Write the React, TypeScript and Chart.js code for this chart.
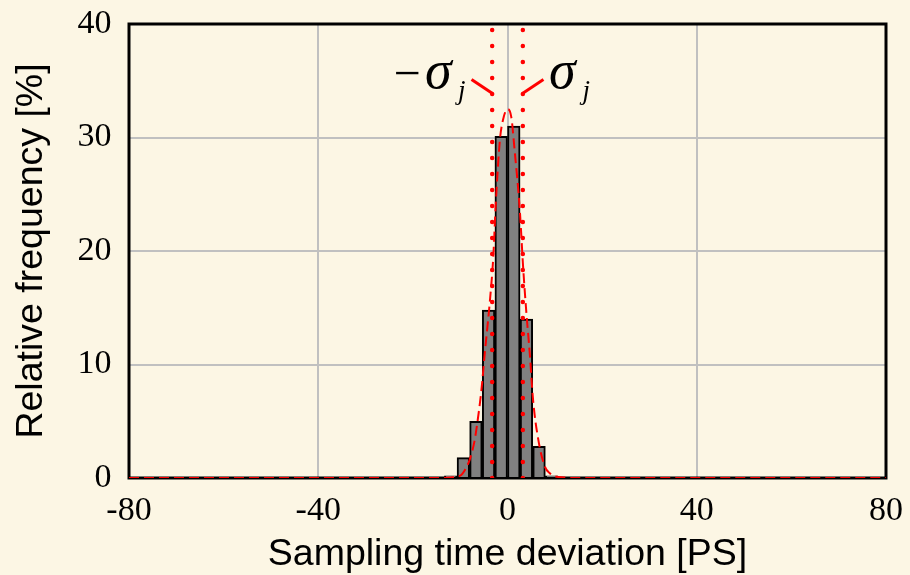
import React, { useEffect, useRef } from "react";
import { Chart, registerables } from "chart.js";

Chart.register(...registerables);

// Histogram bins (centers, in ps) and relative frequencies (%)
const BIN_CENTERS = [-12, -9.33, -6.67, -4, -1.33, 1.33, 4, 6.67, 9.33];
const FREQ = [0.2, 1.8, 5.0, 14.8, 30.1, 31.0, 14.0, 2.8, 0.2];

// Fitted distribution curve
const FIT_X = [-80, -14, -12, -10, -9, -8, -7, -6.5, -5.5, -4.8, -3.7, -3, -2.5, -1.6, -0.8, 0, 0.8, 1.5, 2.6, 3.3, 4, 4.7, 5.4, 6.5, 7.9, 9, 10, 12, 14, 80];
const FIT_Y = [0, 0, 0.05, 0.2, 0.7, 1.6, 3.2, 4.5, 7.8, 11, 15.7, 19.5, 24, 29.8, 31.8, 32.5, 31.8, 28.9, 23.6, 18.6, 14.5, 11, 6.9, 3.4, 1.0, 0.4, 0.15, 0.05, 0, 0];

// sigma_j markers
const SIGMA = 3.24;
const SIGMA_LINE_Y = [0, 40];
const POINTER_INNER = { x: 3.24, y: 33.9 };
const POINTER_OUTER = { x: 7.6, y: 35.1 };

const X_TICKS = [-80, -40, 0, 40, 80];
const Y_TICKS = [0, 10, 20, 30, 40];

const BG = "#FCF6E4";
const TICK_FONT = { family: "'Liberation Serif', 'Times New Roman', serif", size: 34 };
const TITLE_FONT = { family: "'Liberation Sans', Arial, sans-serif", size: 37.5, lineHeight: 1.0 };

const framePlugin = {
  id: "frame",
  beforeDatasetsDraw(chart: any) {
    const { ctx, chartArea: a } = chart;
    ctx.save();
    ctx.strokeStyle = "#000";
    ctx.lineWidth = 3;
    ctx.strokeRect(a.left, a.top, a.right - a.left, a.bottom - a.top);
    ctx.restore();
  },
  afterDatasetsDraw(chart: any) {
    const { ctx } = chart;
    const xs = chart.scales.x;
    const ys = chart.scales.y;
    ctx.save();
    ctx.strokeStyle = "#FF0000";
    ctx.lineWidth = 3;
    ctx.lineCap = "butt";
    for (const s of [-1, 1]) {
      const x1 = xs.getPixelForValue(s * POINTER_INNER.x);
      const y1 = ys.getPixelForValue(POINTER_INNER.y);
      const x2 = xs.getPixelForValue(s * POINTER_OUTER.x);
      const y2 = ys.getPixelForValue(POINTER_OUTER.y);
      ctx.beginPath();
      ctx.moveTo(x1, y1);
      ctx.lineTo(x2, y2);
      ctx.stroke();
    }
    ctx.fillStyle = "#000";
    ctx.textBaseline = "alphabetic";
    ctx.textAlign = "left";
    const oy = ys.getPixelForValue(POINTER_OUTER.y);
    const sigFont = "italic 54px 'Liberation Serif', serif";
    const jFont = "italic 27px 'Liberation Serif', serif";
    const minusFont = "48px 'Liberation Serif', serif";
    const inkLeft = (t: string, font: string, x: number, y: number) => {
      ctx.font = font;
      const m = ctx.measureText(t);
      ctx.fillText(t, x + m.actualBoundingBoxLeft, y);
      return x + m.actualBoundingBoxLeft + m.actualBoundingBoxRight;
    };
    const inkRight = (t: string, font: string, x: number, y: number) => {
      ctx.font = font;
      const m = ctx.measureText(t);
      ctx.fillText(t, x - m.actualBoundingBoxRight, y);
      return x - m.actualBoundingBoxRight - m.actualBoundingBoxLeft;
    };
    // right label
    const rx = xs.getPixelForValue(POINTER_OUTER.x) + 6.5;
    const rEnd = inkLeft("σ", sigFont, rx, oy + 8);
    inkLeft("j", jFont, rEnd + 1.5, oy + 19);
    // left label
    const lx = xs.getPixelForValue(-POINTER_OUTER.x) - 6.5;
    const jStart = inkRight("j", jFont, lx, oy + 19);
    const sStart = inkRight("σ", sigFont, jStart - 1, oy + 8);
    inkRight("−", minusFont, sStart - 7.5, oy + 9);
    ctx.restore();
  },
};

export default function App() {
  const ref = useRef<HTMLCanvasElement | null>(null);
  useEffect(() => {
    if (!ref.current) return;
    const chart = new Chart(ref.current, {
      type: "bar",
      data: {
        datasets: [
          {
            type: "line",
            data: SIGMA_LINE_Y.map((y) => ({ x: -SIGMA, y })),
            borderColor: "#FF0000",
            borderWidth: 4.5,
            borderDash: [0, 16],
            borderCapStyle: "round",
            pointRadius: 0,
            fill: false,
            order: 0,
          } as any,
          {
            type: "line",
            data: SIGMA_LINE_Y.map((y) => ({ x: SIGMA, y })),
            borderColor: "#FF0000",
            borderWidth: 4.5,
            borderDash: [0, 16],
            borderCapStyle: "round",
            pointRadius: 0,
            fill: false,
            order: 1,
          } as any,
          {
            type: "line",
            data: FIT_X.map((x, i) => ({ x, y: FIT_Y[i] })),
            borderColor: "#FF0000",
            borderWidth: 2,
            borderDash: [10, 5],
            pointRadius: 0,
            cubicInterpolationMode: "monotone",
            fill: false,
            order: 2,
          } as any,
          {
            type: "bar",
            data: BIN_CENTERS.map((x, i) => ({ x, y: FREQ[i] })),
            backgroundColor: "#808080",
            borderColor: "#000000",
            borderWidth: 2,
            barPercentage: 1,
            categoryPercentage: 1,
            order: 3,
          } as any,
        ],
      },
      options: {
        animation: false,
        responsive: false,
        layout: { padding: { top: 24, right: 24, left: 0, bottom: 0 } },
        plugins: { legend: { display: false }, tooltip: { enabled: false } },
        scales: {
          x: {
            type: "linear",
            min: -80,
            max: 80,
            offset: false,
            afterBuildTicks: (s: any) => {
              s.ticks = X_TICKS.map((v) => ({ value: v }));
            },
            afterFit: (s: any) => {
              s.height = 97;
              s.paddingLeft = 0;
              s.paddingRight = 0;
            },
            grid: { color: "#C0C0C0", lineWidth: 2, drawTicks: false, offset: false },
            border: { display: false },
            ticks: {
              color: "#000",
              padding: 13,
              maxRotation: 0,
              font: TICK_FONT,
            },
            title: {
              display: true,
              text: "Sampling time deviation [PS]",
              color: "#000",
              font: TITLE_FONT,
              padding: { top: 0, bottom: 2 },
            },
          },
          y: {
            type: "linear",
            min: 0,
            max: 40,
            afterBuildTicks: (s: any) => {
              s.ticks = Y_TICKS.map((v) => ({ value: v }));
            },
            afterFit: (s: any) => {
              s.width = 129;
              s.paddingTop = 0;
              s.paddingBottom = 0;
            },
            grid: { color: "#C0C0C0", lineWidth: 2, drawTicks: false },
            border: { display: false },
            ticks: {
              color: "#000",
              padding: 17.5,
              font: TICK_FONT,
            },
            title: {
              display: true,
              text: "Relative frequency [%]",
              color: "#000",
              font: TITLE_FONT,
              padding: { top: 13, bottom: 0 },
            },
          },
        },
      } as any,
      plugins: [framePlugin],
    });
    return () => chart.destroy();
  }, []);
  return (
    <div style={{ position: "fixed", left: 0, top: 0, width: 910, height: 575, background: BG }}>
      <canvas ref={ref} width={910} height={575} style={{ display: "block" }} />
    </div>
  );
}
